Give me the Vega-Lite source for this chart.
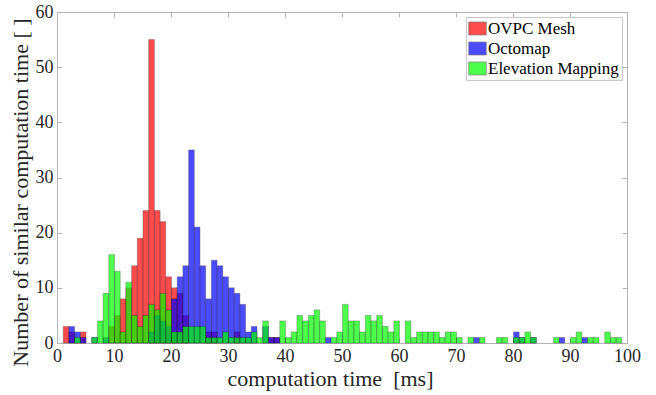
{
  "$schema": "https://vega.github.io/schema/vega-lite/v6.json",
  "width": 570,
  "height": 331,
  "autosize": "none",
  "padding": {"left": 57, "top": 12, "right": 29, "bottom": 52},
  "background": "white",
  "config": {
    "view": {"stroke": "#b4b4b4", "strokeWidth": 1},
    "font": "Liberation Serif",
    "axis": {
      "labelFont": "Liberation Serif", "titleFont": "Liberation Serif",
      "labelFontSize": 18, "titleFontSize": 22, "titleFontWeight": "normal",
      "labelColor": "#262626", "titleColor": "#262626",
      "domainColor": "#b4b4b4", "tickColor": "#b4b4b4", "grid": false
    }
  },
  "data": {"values": [
    {"m": "OVPC Mesh", "t": 1, "n": 3}, {"m": "OVPC Mesh", "t": 2, "n": 2}, {"m": "OVPC Mesh", "t": 4, "n": 2},
    {"m": "OVPC Mesh", "t": 9, "n": 3}, {"m": "OVPC Mesh", "t": 10, "n": 5}, {"m": "OVPC Mesh", "t": 11, "n": 8},
    {"m": "OVPC Mesh", "t": 12, "n": 10}, {"m": "OVPC Mesh", "t": 13, "n": 14}, {"m": "OVPC Mesh", "t": 14, "n": 19},
    {"m": "OVPC Mesh", "t": 15, "n": 24}, {"m": "OVPC Mesh", "t": 16, "n": 55}, {"m": "OVPC Mesh", "t": 17, "n": 24},
    {"m": "OVPC Mesh", "t": 18, "n": 22}, {"m": "OVPC Mesh", "t": 19, "n": 12}, {"m": "OVPC Mesh", "t": 20, "n": 10},
    {"m": "OVPC Mesh", "t": 21, "n": 9}, {"m": "OVPC Mesh", "t": 22, "n": 5}, {"m": "OVPC Mesh", "t": 26, "n": 2},
    {"m": "OVPC Mesh", "t": 27, "n": 2}, {"m": "OVPC Mesh", "t": 31, "n": 2}, {"m": "OVPC Mesh", "t": 37, "n": 1},
    {"m": "OVPC Mesh", "t": 38, "n": 1},
    {"m": "Octomap", "t": 2, "n": 3}, {"m": "Octomap", "t": 3, "n": 2}, {"m": "Octomap", "t": 4, "n": 1},
    {"m": "Octomap", "t": 6, "n": 1}, {"m": "Octomap", "t": 8, "n": 1}, {"m": "Octomap", "t": 16, "n": 2},
    {"m": "Octomap", "t": 17, "n": 5}, {"m": "Octomap", "t": 18, "n": 4}, {"m": "Octomap", "t": 19, "n": 3},
    {"m": "Octomap", "t": 20, "n": 8}, {"m": "Octomap", "t": 21, "n": 12}, {"m": "Octomap", "t": 22, "n": 14},
    {"m": "Octomap", "t": 23, "n": 35}, {"m": "Octomap", "t": 24, "n": 21}, {"m": "Octomap", "t": 25, "n": 14},
    {"m": "Octomap", "t": 26, "n": 8}, {"m": "Octomap", "t": 27, "n": 15}, {"m": "Octomap", "t": 28, "n": 14},
    {"m": "Octomap", "t": 29, "n": 12}, {"m": "Octomap", "t": 30, "n": 10}, {"m": "Octomap", "t": 31, "n": 9},
    {"m": "Octomap", "t": 32, "n": 7}, {"m": "Octomap", "t": 33, "n": 2}, {"m": "Octomap", "t": 34, "n": 3},
    {"m": "Octomap", "t": 36, "n": 3}, {"m": "Octomap", "t": 37, "n": 1}, {"m": "Octomap", "t": 38, "n": 1},
    {"m": "Octomap", "t": 47, "n": 1}, {"m": "Octomap", "t": 73, "n": 1}, {"m": "Octomap", "t": 80, "n": 2},
    {"m": "Octomap", "t": 81, "n": 1}, {"m": "Octomap", "t": 83, "n": 1}, {"m": "Octomap", "t": 88, "n": 1},
    {"m": "Octomap", "t": 92, "n": 1},
    {"m": "Elevation Mapping", "t": 3, "n": 1}, {"m": "Elevation Mapping", "t": 6, "n": 1}, {"m": "Elevation Mapping", "t": 7, "n": 4},
    {"m": "Elevation Mapping", "t": 8, "n": 9}, {"m": "Elevation Mapping", "t": 9, "n": 16}, {"m": "Elevation Mapping", "t": 10, "n": 13},
    {"m": "Elevation Mapping", "t": 11, "n": 2}, {"m": "Elevation Mapping", "t": 12, "n": 11}, {"m": "Elevation Mapping", "t": 13, "n": 5},
    {"m": "Elevation Mapping", "t": 14, "n": 3}, {"m": "Elevation Mapping", "t": 15, "n": 5}, {"m": "Elevation Mapping", "t": 16, "n": 7},
    {"m": "Elevation Mapping", "t": 17, "n": 6}, {"m": "Elevation Mapping", "t": 18, "n": 9}, {"m": "Elevation Mapping", "t": 19, "n": 6},
    {"m": "Elevation Mapping", "t": 20, "n": 2}, {"m": "Elevation Mapping", "t": 21, "n": 2}, {"m": "Elevation Mapping", "t": 22, "n": 3},
    {"m": "Elevation Mapping", "t": 23, "n": 3}, {"m": "Elevation Mapping", "t": 24, "n": 3}, {"m": "Elevation Mapping", "t": 25, "n": 3},
    {"m": "Elevation Mapping", "t": 26, "n": 1}, {"m": "Elevation Mapping", "t": 27, "n": 1}, {"m": "Elevation Mapping", "t": 28, "n": 1},
    {"m": "Elevation Mapping", "t": 29, "n": 2}, {"m": "Elevation Mapping", "t": 30, "n": 1}, {"m": "Elevation Mapping", "t": 31, "n": 1},
    {"m": "Elevation Mapping", "t": 32, "n": 1}, {"m": "Elevation Mapping", "t": 33, "n": 1}, {"m": "Elevation Mapping", "t": 34, "n": 2},
    {"m": "Elevation Mapping", "t": 35, "n": 1}, {"m": "Elevation Mapping", "t": 36, "n": 4}, {"m": "Elevation Mapping", "t": 39, "n": 4},
    {"m": "Elevation Mapping", "t": 40, "n": 1}, {"m": "Elevation Mapping", "t": 41, "n": 2}, {"m": "Elevation Mapping", "t": 42, "n": 5},
    {"m": "Elevation Mapping", "t": 43, "n": 4}, {"m": "Elevation Mapping", "t": 44, "n": 5}, {"m": "Elevation Mapping", "t": 45, "n": 6},
    {"m": "Elevation Mapping", "t": 46, "n": 4}, {"m": "Elevation Mapping", "t": 48, "n": 1}, {"m": "Elevation Mapping", "t": 49, "n": 2},
    {"m": "Elevation Mapping", "t": 50, "n": 7}, {"m": "Elevation Mapping", "t": 51, "n": 4}, {"m": "Elevation Mapping", "t": 52, "n": 4},
    {"m": "Elevation Mapping", "t": 53, "n": 2}, {"m": "Elevation Mapping", "t": 54, "n": 5}, {"m": "Elevation Mapping", "t": 55, "n": 4},
    {"m": "Elevation Mapping", "t": 56, "n": 5}, {"m": "Elevation Mapping", "t": 57, "n": 3}, {"m": "Elevation Mapping", "t": 58, "n": 2},
    {"m": "Elevation Mapping", "t": 59, "n": 4}, {"m": "Elevation Mapping", "t": 61, "n": 4}, {"m": "Elevation Mapping", "t": 62, "n": 1},
    {"m": "Elevation Mapping", "t": 63, "n": 2}, {"m": "Elevation Mapping", "t": 64, "n": 2}, {"m": "Elevation Mapping", "t": 65, "n": 2},
    {"m": "Elevation Mapping", "t": 66, "n": 2}, {"m": "Elevation Mapping", "t": 67, "n": 1}, {"m": "Elevation Mapping", "t": 68, "n": 2},
    {"m": "Elevation Mapping", "t": 69, "n": 2}, {"m": "Elevation Mapping", "t": 70, "n": 1}, {"m": "Elevation Mapping", "t": 72, "n": 1},
    {"m": "Elevation Mapping", "t": 74, "n": 1}, {"m": "Elevation Mapping", "t": 77, "n": 1}, {"m": "Elevation Mapping", "t": 78, "n": 1},
    {"m": "Elevation Mapping", "t": 80, "n": 1}, {"m": "Elevation Mapping", "t": 81, "n": 1}, {"m": "Elevation Mapping", "t": 82, "n": 2},
    {"m": "Elevation Mapping", "t": 83, "n": 1}, {"m": "Elevation Mapping", "t": 87, "n": 1}, {"m": "Elevation Mapping", "t": 90, "n": 1},
    {"m": "Elevation Mapping", "t": 91, "n": 2}, {"m": "Elevation Mapping", "t": 93, "n": 1}, {"m": "Elevation Mapping", "t": 94, "n": 1},
    {"m": "Elevation Mapping", "t": 96, "n": 2}, {"m": "Elevation Mapping", "t": 97, "n": 1}, {"m": "Elevation Mapping", "t": 98, "n": 1}
  ]},
  "layer": [
    {
      "mark": {"type": "bar", "binSpacing": 0, "opacity": 0.7, "stroke": "#000000", "strokeWidth": 0.6, "strokeOpacity": 0.6},
      "encoding": {
        "x": {
          "field": "t", "type": "quantitative", "bin": {"binned": true, "step": 1},
          "scale": {"domain": [0, 100], "nice": false},
          "axis": {"values": [0, 10, 20, 30, 40, 50, 60, 70, 80, 90, 100], "format": "d", "tickSize": -5, "labelPadding": 9, "title": "computation time\u00a0 [ms]", "titlePadding": 3, "titleX": 273, "labelFlush": false}
        },
        "y": {
          "field": "n", "type": "quantitative", "stack": null,
          "scale": {"domain": [0, 60], "nice": false},
          "axis": {"values": [0, 10, 20, 30, 40, 50, 60], "tickSize": -5, "labelPadding": 9, "title": "Number of similar computation time [ ]", "titlePadding": 3, "titleY": 180, "labelFlush": false}
        },
        "color": {
          "field": "m", "type": "nominal",
          "scale": {"domain": ["OVPC Mesh", "Octomap", "Elevation Mapping"], "range": ["#ff0000", "#0000ff", "#00ff00"]},
          "legend": {
            "title": null, "orient": "none", "legendX": 409, "legendY": 5,
            "labelFont": "Liberation Serif", "labelFontSize": 17, "labelColor": "#000000",
            "symbolType": "M-1.35,-1H1.35V1H-1.35Z", "symbolSize": 169, "symbolOpacity": 0.7,
            "symbolStrokeColor": "#444444", "symbolStrokeWidth": 0.7,
            "rowPadding": 2, "labelOffset": 2, "padding": 3,
            "strokeColor": "#c8c8c8", "fillColor": "#ffffff"
          }
        }
      }
    },
    {
      "mark": {"type": "bar", "binSpacing": 0, "opacity": 0},
      "encoding": {
        "x": {
          "field": "t", "type": "quantitative", "bin": {"binned": true, "step": 1},
          "scale": {"domain": [0, 100], "nice": false},
          "axis": {"orient": "top", "values": [0, 10, 20, 30, 40, 50, 60, 70, 80, 90, 100], "labels": false, "tickSize": -5, "title": null}
        },
        "y": {
          "field": "n", "type": "quantitative", "stack": null,
          "scale": {"domain": [0, 60], "nice": false},
          "axis": {"orient": "right", "values": [0, 10, 20, 30, 40, 50, 60], "labels": false, "tickSize": -5, "title": null}
        }
      }
    }
  ],
  "resolve": {"axis": {"x": "independent", "y": "independent"}}
}
